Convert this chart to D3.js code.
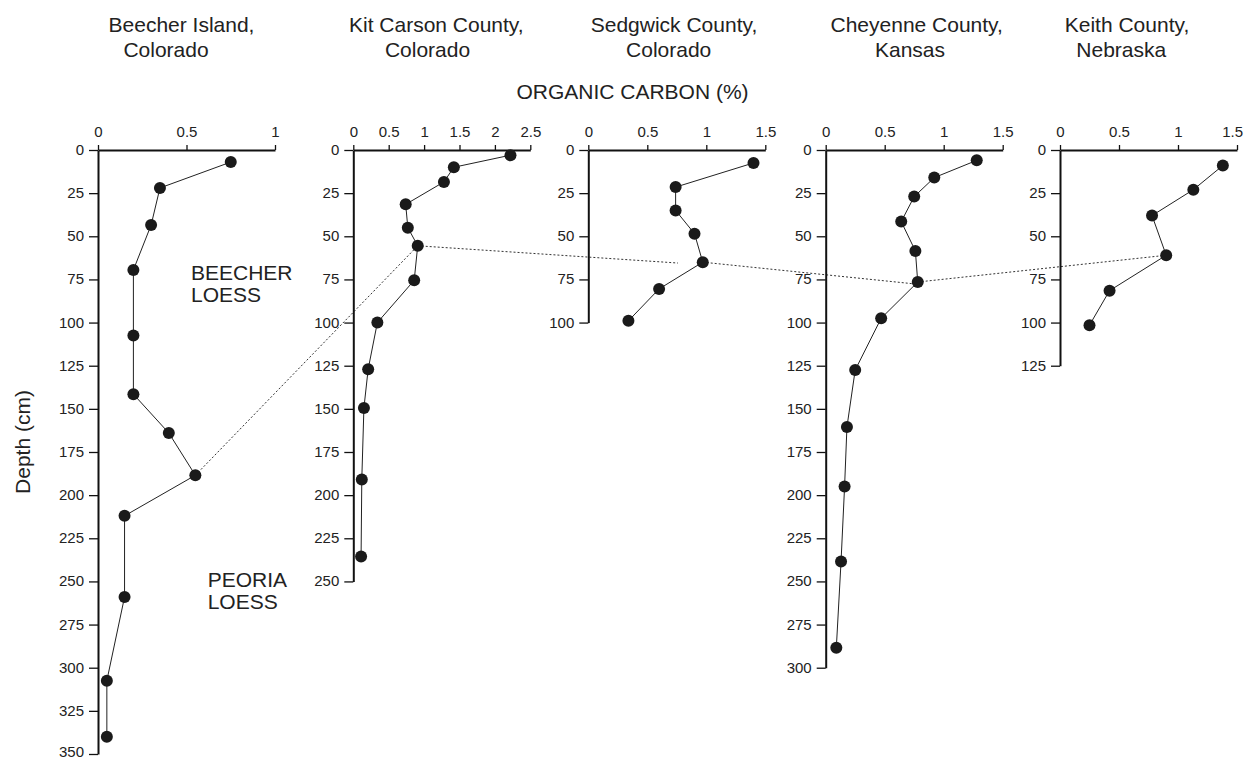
<!DOCTYPE html>
<html>
<head>
<meta charset="utf-8">
<script src="https://cdn.jsdelivr.net/npm/d3@7"></script>
<style>
  html, body { margin: 0; padding: 0; background: #fff; }
  svg { display: block; font-family: "Liberation Sans", Arial, sans-serif; }
  .axis path, .axis line { stroke: #111; }
  .axis text { fill: #222; font-size: 15px; font-family: "Liberation Sans", Arial, sans-serif; }
</style>
</head>
<body>
<svg id="chart" width="1244" height="760"></svg>
<script>
// ---------------- DATA ----------------
const siteLine1 = ["Beecher Island,", "Kit Carson County,", "Sedgwick County,", "Cheyenne County,", "Keith County,"];
const siteLine2 = ["Colorado", "Colorado", "Colorado", "Kansas", "Nebraska"];

const ocMax = [1, 2.5, 1.5, 1.5, 1.5];
const ocTicks = [
  [0, 0.5, 1],
  [0, 0.5, 1, 1.5, 2, 2.5],
  [0, 0.5, 1, 1.5],
  [0, 0.5, 1, 1.5],
  [0, 0.5, 1, 1.5]
];
const depthMax = [350, 250, 100, 300, 125];

// Beecher Island, Colorado
const beecherDepth = [7, 22, 43.5, 69.5, 107.5, 141.5, 164, 188.5, 212, 259, 307.5, 340];
const beecherOC    = [0.75, 0.35, 0.30, 0.20, 0.20, 0.20, 0.40, 0.55, 0.15, 0.15, 0.05, 0.05];
// Kit Carson County, Colorado
const kitDepth = [3, 10, 18.5, 31.5, 45, 55.5, 75.5, 100, 127, 149.5, 191, 235.5];
const kitOC    = [2.22, 1.42, 1.28, 0.74, 0.77, 0.91, 0.86, 0.34, 0.21, 0.15, 0.12, 0.11];
// Sedgwick County, Colorado
const sedgDepth = [7.5, 21.5, 35, 48.5, 65, 80.5, 99];
const sedgOC    = [1.40, 0.74, 0.74, 0.90, 0.97, 0.60, 0.34];
// Cheyenne County, Kansas
const cheyDepth = [6, 16, 27, 41.5, 58.5, 76.5, 97.5, 127.5, 160.5, 195, 238.5, 288.5];
const cheyOC    = [1.28, 0.92, 0.75, 0.64, 0.76, 0.78, 0.47, 0.25, 0.18, 0.16, 0.13, 0.09];
// Keith County, Nebraska
const keithDepth = [9, 23, 38, 61, 81.5, 101.5];
const keithOC    = [1.38, 1.13, 0.78, 0.90, 0.42, 0.25];

const siteDepths = [beecherDepth, kitDepth, sedgDepth, cheyDepth, keithDepth];
const siteOC = [beecherOC, kitOC, sedgOC, cheyOC, keithOC];

// correlation (dotted) lines: [panel, OC %, depth cm]
const corrFrom = [[0, 0.55, 188.5], [1, 0.91, 55.5], [2, 0.97, 65], [3, 0.78, 76.5]];
const corrTo   = [[1, 0.91, 55.5], [2, 0.76, 65.5], [3, 0.74, 77.5], [4, 0.90, 61]];

const annotations = [
  { lines: ["BEECHER", "LOESS"], depth: 75.5 },
  { lines: ["PEORIA", "LOESS"], depth: 253.5 }
];

// ---------------- LAYOUT ----------------
const W = 1244, H = 760;
const panelLeft = [98, 353.3, 588.3, 825.7, 1060];
const panelWidth = 177;
const topY = 150;
const pxPerCm = 1.7257;
const titleX1 = [181.5, 436.3, 674, 916.7, 1127];
const titleX2 = [166, 427.5, 668.7, 910, 1121.3];
const bigFont = 21;
const textColor = "#222";

const svg = d3.select("#chart");
svg.append("rect").attr("width", W).attr("height", H).attr("fill", "#fff");

const y = d3.scaleLinear().domain([0, 350]).range([topY, topY + 350 * pxPerCm]);
const xs = ocMax.map((m, i) => d3.scaleLinear().domain([0, m]).range([panelLeft[i], panelLeft[i] + panelWidth]));

// Titles
siteLine1.forEach((t, i) => {
  svg.append("text").attr("x", titleX1[i]).attr("y", 32.3).attr("text-anchor", "middle")
    .attr("font-size", bigFont).attr("fill", textColor).text(t);
  svg.append("text").attr("x", titleX2[i]).attr("y", 57.3).attr("text-anchor", "middle")
    .attr("font-size", bigFont).attr("fill", textColor).text(siteLine2[i]);
});

svg.append("text").attr("x", 632.5).attr("y", 99.3).attr("text-anchor", "middle")
  .attr("font-size", bigFont).attr("fill", textColor).text("ORGANIC CARBON (%)");

svg.append("text").attr("transform", "translate(30,442) rotate(-90)").attr("text-anchor", "middle")
  .attr("font-size", bigFont).attr("fill", textColor).text("Depth (cm)");

// Correlation dotted lines (behind)
const corrG = svg.append("g");
corrFrom.forEach((f, k) => {
  const t = corrTo[k];
  corrG.append("line")
    .attr("x1", xs[f[0]](f[1])).attr("y1", y(f[2]))
    .attr("x2", xs[t[0]](t[1])).attr("y2", y(t[2]))
    .attr("stroke", "#333").attr("stroke-width", 1).attr("stroke-dasharray", "2,2");
});

// Panels
xs.forEach((x, i) => {
  const g = svg.append("g");
  const yPanel = y.copy().domain([0, depthMax[i]]).range([topY, y(depthMax[i])]);
  const yTicks = d3.range(0, depthMax[i] + 1, 25);

  const ya = g.append("g").attr("class", "axis").attr("transform", `translate(${panelLeft[i]},0)`)
    .call(d3.axisLeft(yPanel).tickValues(yTicks).tickSize(9).tickPadding(5).tickSizeOuter(0).tickFormat(d3.format("d")));
  ya.select(".domain").attr("stroke-width", 2);
  ya.selectAll(".tick line").attr("stroke-width", 1.3);
  ya.selectAll(".tick text").attr("dy", "0.3em");

  const xa = g.append("g").attr("class", "axis").attr("transform", `translate(0,${topY})`)
    .call(d3.axisTop(x).tickValues(ocTicks[i]).tickSize(5).tickPadding(8).tickSizeOuter(0).tickFormat(d => String(d)));
  xa.select(".domain").attr("stroke-width", 2);
  xa.selectAll(".tick line").attr("stroke-width", 1.3);

  const pts = siteDepths[i].map((d, k) => [siteOC[i][k], d]);
  g.append("path").datum(pts)
    .attr("fill", "none").attr("stroke", "#222").attr("stroke-width", 1)
    .attr("d", d3.line().x(p => x(p[0])).y(p => y(p[1])));
  g.selectAll("circle").data(pts).join("circle")
    .attr("cx", p => x(p[0])).attr("cy", p => y(p[1])).attr("r", 6).attr("fill", "#1a1a1a");
});

// keep tick labels inside the canvas
svg.selectAll(".axis .tick text").each(function () {
  const b = this.getBBox();
  const m = this.getCTM();
  const right = m.e + b.x + b.width;
  const bottom = m.f + b.y + b.height;
  if (right > W - 1) {
    d3.select(this).attr("x", +(d3.select(this).attr("x") || 0) - (right - (W - 1)));
  }
  if (bottom > H) {
    d3.select(this).attr("y", +(d3.select(this).attr("y") || 0) - (bottom - H));
  }
});

// Unit annotations in Beecher panel
const annX = [191, 207.7];
annotations.forEach((a, k) => {
  const t = svg.append("text").attr("font-size", bigFont).attr("fill", textColor);
  a.lines.forEach((l, j) => {
    t.append("tspan").attr("x", annX[k]).attr("y", y(a.depth) + j * 21.5).text(l);
  });
});
</script>
</body>
</html>
